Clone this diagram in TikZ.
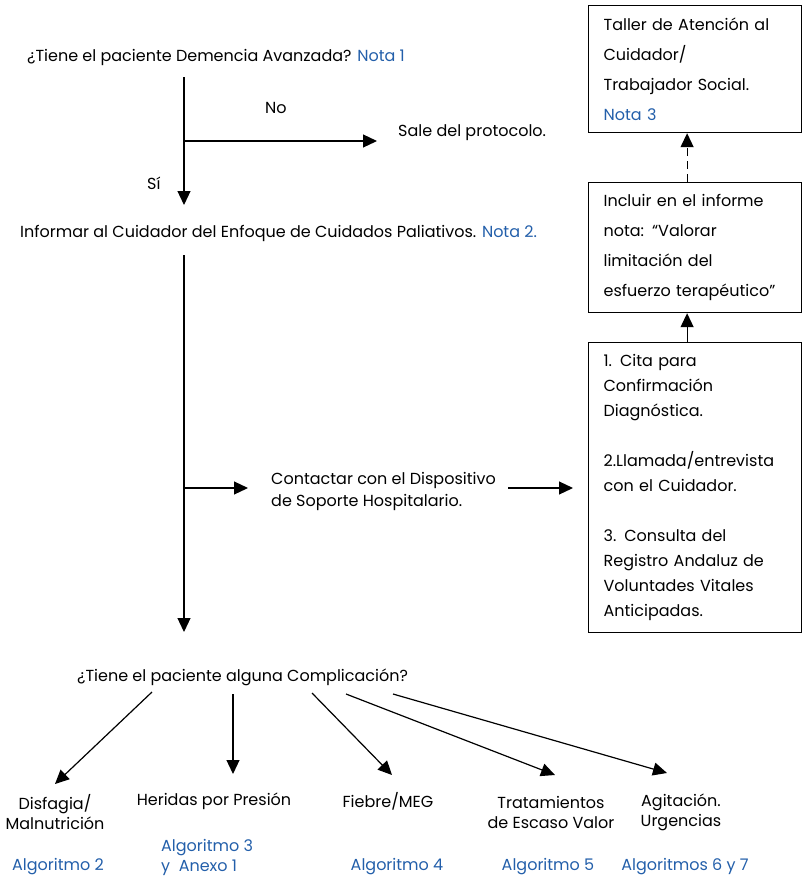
\documentclass[tikz,border=0pt]{standalone}
\usepackage{fontspec}
\setmainfont{Poppins}
\usetikzlibrary{arrows.meta}
\definecolor{notablue}{RGB}{35,95,170}
\begin{document}
\begin{tikzpicture}[x=1pt,y=-1pt,
  every node/.style={font=\fontsize{16}{20}\selectfont, inner sep=0pt},
  lbl/.style={anchor=west},
  ctr/.style={anchor=center, align=center},
  note/.style={text=notablue},
  box/.style={draw, line width=1.2pt, anchor=north west, text width=183pt, align=left, inner xsep=15pt, inner ysep=0pt, minimum width=213pt},
  arr/.style={line width=1.2pt, -{Triangle[length=14pt,width=13pt]}},
  ln/.style={line width=1.2pt}]
\useasboundingbox (0,0) rectangle (803,881);
% top question
\node[lbl] (q1) at (27,57) {¿Tiene el paciente Demencia Avanzada? \textcolor{notablue}{Nota 1}};
\coordinate (q1s) at (184,77);
\coordinate (br1) at (184,141);
\coordinate (a1end) at (184,205);
\coordinate (saleIn) at (377,141);
\node[lbl] (no) at (265,108) {No};
\node[lbl] (sale) at (398,133) {Sale del protocolo.};
\node[lbl] (si) at (147,183) {Sí};
\draw[arr] (q1s) -- (a1end);
\draw[arr] (br1) -- (saleIn);
% inform
\node[lbl] (inf) at (20,233) {Informar al Cuidador del Enfoque de Cuidados Paliativos. \textcolor{notablue}{Nota 2.}};
\coordinate (v2s) at (184,255);
\coordinate (v2e) at (184,632);
\coordinate (br2) at (184,488);
\coordinate (br2e) at (248,488);
\draw[arr] (v2s) -- (v2e);
\draw[arr] (br2) -- (br2e);
\node[lbl, align=left, font=\fontsize{16}{22}\selectfont] (cont) at (271,491) {Contactar con el Dispositivo\\de Soporte Hospitalario.};
\coordinate (c2s) at (508,488);
\coordinate (c2e) at (573,488);
\draw[arr] (c2s) -- (c2e);
% boxes
\node[box, minimum height=127pt, font=\fontsize{16}{30}\selectfont] (b1) at (588,5) {Taller de Atención al\\Cuidador/\\Trabajador Social.\\\textcolor{notablue}{Nota 3}};
\node[box, minimum height=130pt, font=\fontsize{16}{30}\selectfont] (b2) at (588,182) {Incluir en el informe\\nota: “Valorar\\limitación del\\esfuerzo terapéutico”};
\node[box, minimum height=290pt, font=\fontsize{16}{25}\selectfont] (b3) at (588,342) {1. Cita para\\Confirmación\\Diagnóstica.\\[25pt]2.Llamada/entrevista\\con el Cuidador.\\[25pt]3. Consulta del\\Registro Andaluz de\\Voluntades Vitales\\Anticipadas.};
\draw[arr] ([xshift=-8pt]b3.north) -- ([xshift=-8pt]b2.south);
\draw[arr, dash pattern=on 8pt off 5pt] ([xshift=-8pt]b2.north) -- ([xshift=-8pt]b1.south);
% complications
\node[lbl] (q2) at (77,677) {¿Tiene el paciente alguna Complicación?};
\node[ctr] (dis) at (55,812) {Disfagia/\\Malnutrición};
\node[ctr] (her) at (214,801) {Heridas por Presión};
\node[ctr] (fie) at (388,801) {Fiebre/MEG};
\node[ctr] (tra) at (551,812) {Tratamientos\\de Escaso Valor};
\node[ctr] (agi) at (681,812) {Agitación.\\Urgencias};
\node[ctr, note] (al2) at (58,867) {Algoritmo 2};
\node[lbl, note, align=left] (al3) at (161,857) {Algoritmo 3\\y\ \ Anexo 1};
\node[ctr, note] (al4) at (397,867) {Algoritmo 4};
\node[ctr, note] (al5) at (548,867) {Algoritmo 5};
\node[ctr, note] (al6) at (685,867) {Algoritmos 6 y 7};
\coordinate (s1) at (152,692); \coordinate (e1) at (55,784);
\coordinate (s2) at (233,694); \coordinate (e2) at (233,774);
\coordinate (s3) at (312,693); \coordinate (e3) at (392,775);
\coordinate (s4) at (346,694); \coordinate (e4) at (555,775);
\coordinate (s5) at (393,694); \coordinate (e5) at (667,773);
\draw[arr] (s1) -- (e1);
\draw[arr] (s2) -- (e2);
\draw[arr] (s3) -- (e3);
\draw[arr] (s4) -- (e4);
\draw[arr] (s5) -- (e5);
\end{tikzpicture}
\end{document}
